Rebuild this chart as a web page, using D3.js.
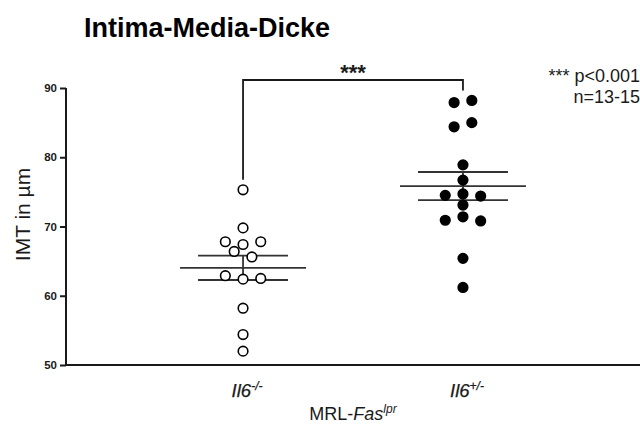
<!DOCTYPE html>
<html><head><meta charset="utf-8">
<script src="https://cdn.jsdelivr.net/npm/d3@7"></script>
<style>body{margin:0;background:#fff}svg{display:block;font-family:"Liberation Sans",Arial,sans-serif}</style>
</head><body>
<svg id="c" width="640" height="425"></svg>
<script>
const groups = ["Il6-/-", "Il6+/-"];
const groupBase = ["Il6", "Il6"];
const groupSup = ["-/-", "+/-"];
const koValues = [75.3, 69.8, 67.8, 67.4, 67.8, 66.4, 65.6, 62.9, 62.4, 62.5, 58.2, 54.4, 52.0];
const hetValues = [87.9, 88.2, 84.4, 85.0, 78.9, 76.7, 74.5, 74.7, 74.4, 73.1, 70.9, 71.4, 70.8, 65.4, 61.2];
const yTicks = [50, 60, 70, 80, 90];
const title = "Intima-Media-Dicke";
const yLabel = "IMT in µm";
const sigLabel = "***";
const noteLines = ["*** p<0.001", "n=13-15"];

const svg = d3.select("#c");
const y = d3.scaleLinear().domain([50, 90]).range([365, 88]);
const x = d3.scalePoint().domain(groups).range([66, 640]).padding(0.805);
const ink = "#1a1a1a";

// axes
const yAxis = svg.append("g").attr("transform", "translate(66,0)")
  .call(d3.axisLeft(y).tickValues(yTicks).tickSize(6).tickPadding(3).tickFormat(d3.format("d")));
yAxis.select(".domain").attr("stroke", ink).attr("stroke-width", 2).attr("d", `M0,${y(90)}V${y(50)}`);
yAxis.selectAll(".tick line").attr("stroke", ink).attr("stroke-width", 2);
yAxis.selectAll(".tick text").attr("font-size", 11.5).attr("font-weight", "bold").attr("fill", ink)
  .attr("font-family", "Liberation Sans, Arial, sans-serif");

svg.append("line").attr("x1", 65).attr("x2", 640).attr("y1", y(50)).attr("y2", y(50))
  .attr("stroke", ink).attr("stroke-width", 2);

// x labels
groups.forEach((g, i) => {
  const t = svg.append("text").attr("x", x(g) + 4).attr("y", 397).attr("text-anchor", "middle")
    .attr("font-size", 18.5).attr("font-style", "italic").attr("fill", ink)
    .attr("stroke", ink).attr("stroke-width", 0.25);
  t.append("tspan").text(groupBase[i]);
  t.append("tspan").attr("font-size", 12).attr("dy", -7).text(groupSup[i]);
});
const xt = svg.append("text").attr("x", (x(groups[0]) + x(groups[1])) / 2).attr("y", 420)
  .attr("text-anchor", "middle").attr("font-size", 18).attr("fill", ink);
xt.append("tspan").text("MRL-");
xt.append("tspan").attr("font-style", "italic").text("Fas");
xt.append("tspan").attr("font-style", "italic").attr("font-size", 12).attr("dy", -7).text("lpr");

// y label
svg.append("text").attr("transform", `translate(30,${(y(50) + y(90)) / 2 - 12}) rotate(-90)`)
  .attr("text-anchor", "middle").attr("font-size", 21).attr("fill", ink).text(yLabel);

// title
svg.append("text").attr("x", 84).attr("y", 37).attr("font-size", 27).attr("font-weight", "bold")
  .attr("fill", "#000").text(title);

// swarm layout
const slot = 17.7;
function swarm(vals) {
  const rows = [];
  vals.forEach(v => {
    const last = rows[rows.length - 1];
    if (last && Math.abs(y(v) - y(last[0])) <= 8) last.push(v); else rows.push([v]);
  });
  const out = [];
  rows.forEach(r => r.forEach((v, k) => out.push({ v, dx: (k - (r.length - 1) / 2) * slot })));
  return out;
}

const series = [koValues, hetValues];
series.forEach((vals, i) => {
  const cx = x(groups[i]);
  const m = d3.mean(vals);
  const sem = d3.deviation(vals) / Math.sqrt(vals.length);
  const g = svg.append("g");
  g.append("line").attr("x1", cx - 63).attr("x2", cx + 63).attr("y1", y(m)).attr("y2", y(m))
    .attr("stroke", "#333").attr("stroke-width", 1.8);
  [m + sem, m - sem].forEach(v => g.append("line").attr("x1", cx - 45).attr("x2", cx + 45)
    .attr("y1", y(v)).attr("y2", y(v)).attr("stroke", "#333").attr("stroke-width", 1.8));
  g.append("line").attr("x1", cx).attr("x2", cx).attr("y1", y(m + sem)).attr("y2", y(m - sem))
    .attr("stroke", "#333").attr("stroke-width", 1.8);
  g.selectAll("circle").data(swarm(vals)).join("circle")
    .attr("cx", d => cx + d.dx).attr("cy", d => y(d.v)).attr("r", 4.8)
    .attr("fill", i === 0 ? "#fff" : "#000").attr("stroke", "#000").attr("stroke-width", 1.6);
});

// significance bracket
const topY = y(90) - 8;
const x0 = x(groups[0]), x1 = x(groups[1]);
svg.append("path")
  .attr("d", `M${x0},${y(d3.max(koValues)) - 10}V${topY}H${x1}V${y(d3.max(hetValues)) - 10}`)
  .attr("fill", "none").attr("stroke", ink).attr("stroke-width", 1.8);
svg.append("text").attr("x", (x0 + x1) / 2).attr("y", 80).attr("text-anchor", "middle")
  .attr("font-size", 22).attr("font-weight", "bold").attr("fill", ink).text(sigLabel);

// note
noteLines.forEach((l, i) => svg.append("text").attr("x", 640).attr("y", 82 + i * 21)
  .attr("text-anchor", "end").attr("font-size", 18).attr("fill", ink).text(l));
</script>
</body></html>
